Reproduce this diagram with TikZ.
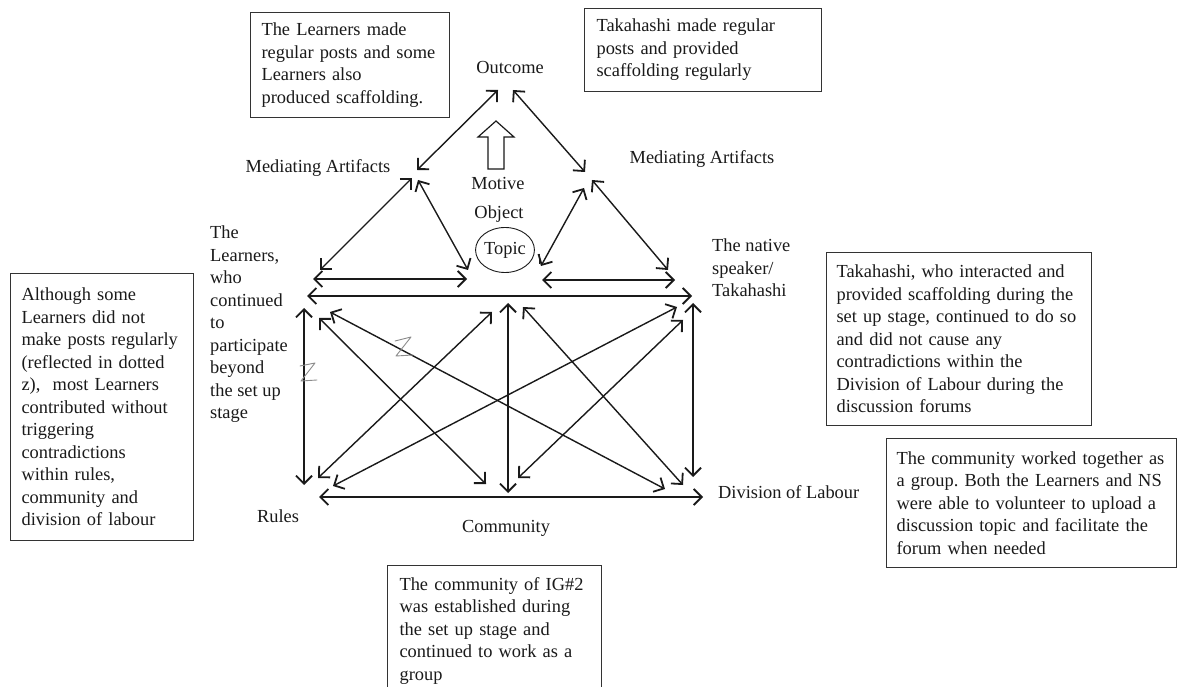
\documentclass[tikz,border=0pt]{standalone}
\usepackage{fontspec}
\setmainfont{Liberation Serif}
\usetikzlibrary{arrows.meta,shapes.geometric}
\hyphenpenalty=10000
\exhyphenpenalty=10000
\frenchspacing
\definecolor{ink}{HTML}{1A1A1A}
\definecolor{boxline}{HTML}{333333}
\definecolor{pencil}{HTML}{8C8C8C}
\tikzset{
  txt/.style={font=\fontsize{18.4}{22.5}\selectfont, text=ink, inner sep=0pt},
  infobox/.style={txt, draw=boxline, line width=1.1pt, align=left, anchor=north west, inner ysep=0pt},
  conn/.style={draw=ink, line width=1.4pt, {Straight Barb[length=8pt,width=16pt,line width=1.8pt]}-{Straight Barb[length=8pt,width=16pt,line width=1.8pt]}},
  zmark/.style={draw=pencil, line width=0.9pt, line join=round, line cap=round},
  hollow/.style={draw=ink, line width=1.2pt, fill=white}
}
\begin{document}
\begin{tikzpicture}[x=1pt,y=-1pt]
\clip (0,0) rectangle (1179,687);
\fill[white] (0,0) rectangle (1179,687);

% ---------- information boxes ----------
\node[infobox, inner xsep=11pt, text width=177pt, minimum height=105pt] (b1) at (250,12)
  {The Learners made\\regular posts and some\\Learners also\\produced scaffolding.};
\node[infobox, inner xsep=12pt, text width=213pt, minimum height=83pt] (b2) at (584,8)
  {Takahashi made regular\\posts and provided\\scaffolding regularly};
\node[infobox, inner xsep=10pt, text width=245pt, minimum height=173pt] (b3) at (826,252)
  {Takahashi, who interacted and\\provided scaffolding during the\\set up stage, continued to do so\\and did not cause any\\contradictions within the\\Division of Labour during the\\discussion forums};
\node[infobox, inner xsep=10pt, text width=270pt, minimum height=129pt] (b4) at (886,438)
  {The community worked together as\\a group. Both the Learners and NS\\were able to volunteer to upload a\\discussion topic and facilitate the\\forum when needed};
\node[infobox, inner xsep=11pt, text width=161pt, minimum height=267pt] (b5) at (10,273)
  {Although some\\Learners did not\\make posts regularly\\(reflected in dotted\\z),~ most Learners\\contributed without\\triggering\\contradictions\\within rules,\\community and\\division of labour};
\node[infobox, inner xsep=12pt, text width=190pt, minimum height=130pt] (b6) at (387,565)
  {The community of IG\#2\\was established during\\the set up stage and\\continued to work as a\\group};

% ---------- labels ----------
\node[txt] (outcome) at (510,68) {Outcome};
\node[txt] (maL) at (318,168) {Mediating Artifacts};
\node[txt] (maR) at (702,159) {Mediating Artifacts};
\node[txt] (motive) at (498,183) {Motive};
\node[txt] (object) at (499,214) {Object};
\node[txt, draw=ink, line width=0.9pt, ellipse, minimum width=51pt, minimum height=45pt] (topic) at (505,250) {Topic};
\node[txt, align=left, anchor=north west] (subject) at (210,226)
  {The\\Learners,\\who\\continued\\to\\participate\\beyond\\the set up\\stage};
\node[txt, align=left, anchor=north west] (native) at (712,239)
  {The native\\speaker/\\Takahashi};
\node[txt] (rules) at (278,516) {Rules};
\node[txt] (community) at (506,528) {Community};
\node[txt, anchor=west] (division) at (718,492) {Division of Labour};

% ---------- hollow motive arrow ----------
\draw[hollow] (488,169) -- (488,137) -- (478,137) -- (496,121) -- (514,137) -- (504,137) -- (504,169) -- cycle;

% small tick next to Topic
\coordinate (tickA) at (539,254);
\coordinate (tickB) at (539,264);
\draw[draw=ink, line width=1pt] (tickA) -- (tickB);

% ---------- connector end points ----------
\coordinate (outL) at (498,90);
\coordinate (outR) at (513,90);
\coordinate (maL1) at (417,170);
\coordinate (maR1) at (585,172);
\coordinate (maL2) at (412,178);
\coordinate (maL3) at (418,180);
\coordinate (maR2) at (584,188);
\coordinate (maR3) at (592,180);
\coordinate (triLa) at (320,270);
\coordinate (triLb) at (468,270);
\coordinate (triRa) at (541,266);
\coordinate (triRb) at (668,270);
\coordinate (shLa) at (313,279);
\coordinate (shLb) at (467,279);
\coordinate (shRa) at (542,280);
\coordinate (shRb) at (675,280);
\coordinate (longA) at (307,296);
\coordinate (longB) at (692,296);
\coordinate (vLt) at (304,308);
\coordinate (vLb) at (304,485);
\coordinate (vMt) at (508,303);
\coordinate (vMb) at (508,493);
\coordinate (vRt) at (693,303);
\coordinate (vRb) at (693,477);
\coordinate (botA) at (319,497);
\coordinate (botB) at (703,497);
\coordinate (d1a) at (319,318);
\coordinate (d1b) at (486,484);
\coordinate (d2a) at (330,312);
\coordinate (d2b) at (665,489);
\coordinate (d3a) at (492,312);
\coordinate (d3b) at (318,478);
\coordinate (d4a) at (333,486);
\coordinate (d4b) at (677,307);
\coordinate (d5a) at (683,320);
\coordinate (d5b) at (518,478);
\coordinate (d6a) at (523,307);
\coordinate (d6b) at (683,485);

% ---------- connectors ----------
\draw[conn] (outL) -- (maL1);
\draw[conn] (outR) -- (maR1);
\draw[conn] (maL2) -- (triLa);
\draw[conn] (maL3) -- (triLb);
\draw[conn] (maR2) -- (triRa);
\draw[conn] (maR3) -- (triRb);
\draw[conn] (shLa) -- (shLb);
\draw[conn] (shRa) -- (shRb);
\draw[conn] (longA) -- (longB);
\draw[conn] (vLt) -- (vLb);
\draw[conn] (vMt) -- (vMb);
\draw[conn] (vRt) -- (vRb);
\draw[conn] (botA) -- (botB);
\draw[conn] (d1a) -- (d1b);
\draw[conn] (d2a) -- (d2b);
\draw[conn] (d3a) -- (d3b);
\draw[conn] (d4a) -- (d4b);
\draw[conn] (d5a) -- (d5b);
\draw[conn] (d6a) -- (d6b);

% ---------- pencil z marks ----------
\draw[zmark] (300,366) -- (315,363) -- (301,381) -- (317,380);
\draw[zmark] (395,341) -- (411,337) -- (396,356) -- (413,355);
\end{tikzpicture}
\end{document}
